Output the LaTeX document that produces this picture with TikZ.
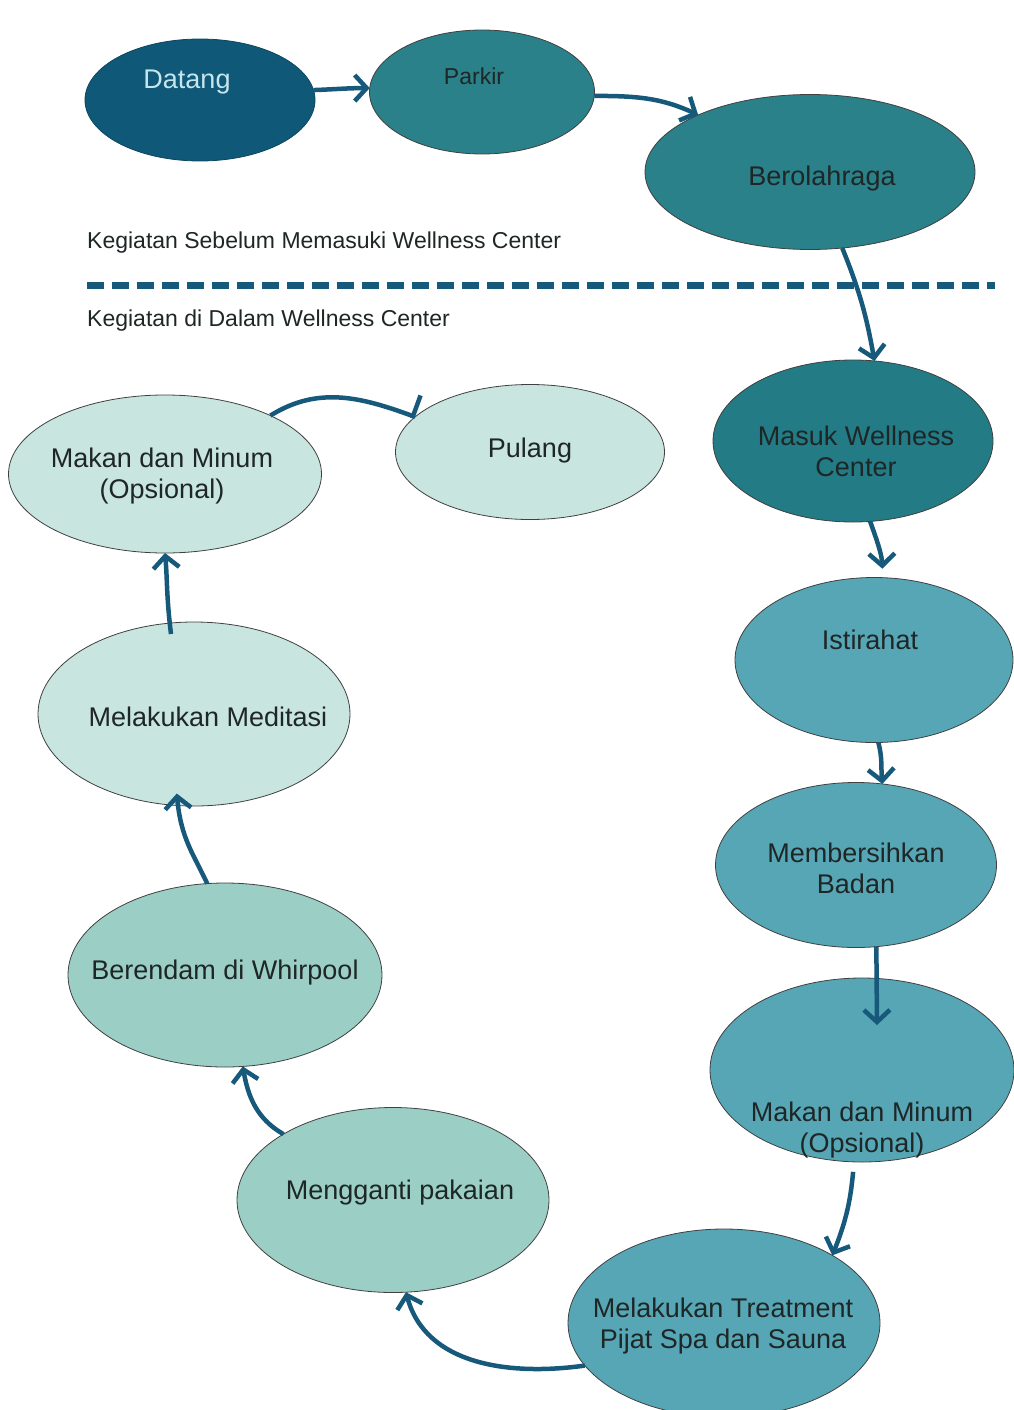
\documentclass[tikz,border=0pt]{standalone}
\usepackage{fontspec}
\setmainfont{Liberation Sans}
\usetikzlibrary{arrows.meta,shapes.geometric}

\definecolor{navy}{HTML}{0F5877}
\definecolor{tealA}{HTML}{2B8189}
\definecolor{tealB}{HTML}{237B86}
\definecolor{tealC}{HTML}{57A6B5}
\definecolor{mintA}{HTML}{9BCFC6}
\definecolor{mintB}{HTML}{C8E5DF}
\definecolor{flow}{HTML}{17597A}
\definecolor{ink}{HTML}{1E2626}
\definecolor{pale}{HTML}{C5E6EE}

\begin{document}
\begin{tikzpicture}[x=1pt,y=-1pt,
  blob/.style={ellipse, draw=black!75, line width=0.8pt, inner sep=0pt, outer sep=0pt},
  sz/.style 2 args={minimum width=#1, minimum height=#2},
  lbl/.style={font=\fontsize{27}{31}\selectfont, text=ink, align=center, inner sep=0pt},
  note/.style={font=\fontsize{23}{27}\selectfont, text=ink, anchor=west, inner sep=0pt},
  flowline/.style={draw=flow, line width=4.5pt, -{Straight Barb[length=12pt,width=26pt]}},
  endline/.style={draw=flow, line width=4.5pt, -{Bar[harpoon,width=44pt]}},
  divider/.style={draw=flow, line width=7pt, dash pattern=on 17pt off 8pt}
]
\useasboundingbox (0,0) rectangle (1014,1410);
\clip (0,0) rectangle (1014,1410);

% section captions and divider
\node[note] (pre) at (87,243) {Kegiatan Sebelum Memasuki Wellness Center};
\node[note] (inside) at (87,321) {Kegiatan di Dalam Wellness Center};
\coordinate (divL) at (87,285);
\coordinate (divR) at (995,285);
\draw[divider] (divL) -- (divR);

% activities before entering
\node[blob, sz={230pt}{122pt}, fill=navy, draw=navy!80!black,
  label={[lbl, text=pale, xshift=-13pt, yshift=18pt]center:Datang}] (datang) at (200,100) {};
\node[blob, sz={225pt}{124pt}, fill=tealA,
  label={[lbl, font=\fontsize{23}{27}\selectfont, xshift=-8pt, yshift=16pt]center:Parkir}] (parkir) at (482,92) {};
\node[blob, sz={330pt}{155pt}, fill=tealA,
  label={[lbl, xshift=12pt, yshift=-7pt]center:Berolahraga}] (olahraga) at (810,172) {};

% activities inside, right column
\node[blob, sz={280pt}{162pt}, fill=tealB,
  label={[lbl, xshift=3pt, yshift=-10pt]center:{Masuk Wellness\\Center}}] (masuk) at (853,441) {};
\node[blob, sz={278pt}{165pt}, fill=tealC,
  label={[lbl, xshift=-4pt, yshift=20pt]center:Istirahat}] (istirahat) at (874,660) {};
\node[blob, sz={281pt}{165pt}, fill=tealC,
  label={[lbl, yshift=-3pt]center:{Membersihkan\\Badan}}] (bersih) at (856,865) {};
\node[blob, sz={304pt}{184pt}, fill=tealC,
  label={[lbl, yshift=-60pt]center:{Makan dan Minum\\(Opsional)}}] (makanr) at (862,1070) {};
\node[blob, sz={312pt}{188pt}, fill=tealC,
  label={[lbl, xshift=-1pt, yshift=-3pt]center:{Melakukan Treatment\\Pijat Spa dan Sauna}}] (treat) at (724,1323) {};

% activities inside, left column
\node[blob, sz={312pt}{185pt}, fill=mintA,
  label={[lbl, xshift=7pt, yshift=7pt]center:Mengganti pakaian}] (ganti) at (393,1200) {};
\node[blob, sz={314pt}{184pt}, fill=mintA,
  label={[lbl, yshift=2pt]center:Berendam di Whirpool}] (rendam) at (225,975) {};
\node[blob, sz={312pt}{184pt}, fill=mintB,
  label={[lbl, xshift=14pt, yshift=-3pt]center:Melakukan Meditasi}] (medit) at (194,714) {};
\node[blob, sz={313pt}{158pt}, fill=mintB,
  label={[lbl, xshift=-3pt, yshift=-2pt]center:{Makan dan Minum\\(Opsional)}}] (makanl) at (165,474) {};
\node[blob, sz={269pt}{135pt}, fill=mintB,
  label={[lbl, yshift=1pt]center:Pulang}] (pulang) at (530,452) {};

\coordinate (makanr-in) at ([xshift=15pt,yshift=45pt]makanr.center);

% flow
\draw[flowline] (datang.5) to[out=2, in=180] (parkir.178);
\draw[flowline] (parkir.-2) to[out=0, in=155] (olahraga.153);
\draw[flowline] (olahraga.-67) to[out=-68, in=100] (masuk.75);
\draw[flowline, shorten >=9pt] (masuk.-78) to[out=-70, in=92] (istirahat.84);
\draw[flowline] (istirahat.-87) to[out=-75, in=95] (bersih.72);
\draw[flowline] (bersih.-76) -- (makanr-in);
\draw[flowline, shorten <=10pt] (makanr.-95) to[out=-95, in=68] (treat.32);
\draw[flowline] (treat.197) to[out=188, in=-75] (ganti.-82);
\draw[flowline] (ganti.149) to[out=150, in=-80] (rendam.-79);
\draw[flowline, shorten >=-12pt] (rendam.101) to[out=115, in=-85] (medit.-100);
\draw[flowline, shorten <=-11pt] (medit.105) to[out=97, in=-85] (makanl.-90);
\draw[endline] (makanl.29) to[out=32, in=160] (pulang.163);
\end{tikzpicture}
\end{document}
